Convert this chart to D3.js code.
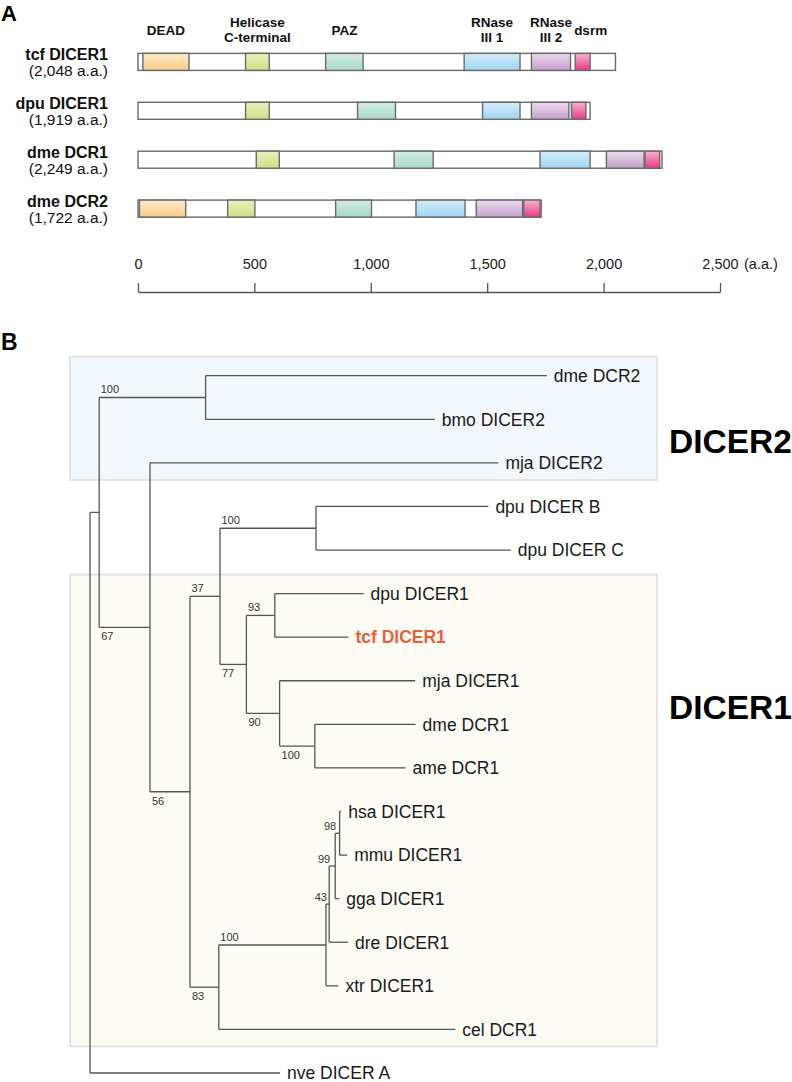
<!DOCTYPE html>
<html><head><meta charset="utf-8">
<script src="https://cdn.jsdelivr.net/npm/d3@7"></script>
<style>
html,body{margin:0;padding:0;background:#fff}
svg{display:block}
text{font-family:"Liberation Sans",Arial,Helvetica,sans-serif}
</style>
</head><body>
<svg id="chart" width="792" height="1082"></svg>
<script>
// ---------------- Panel A data ----------------
const proteins = ["tcf DICER1", "dpu DICER1", "dme DCR1", "dme DCR2"];
const proteinLengths = [2048, 1919, 2249, 1722];
const drawnLengths = [2051, 1942, 2251, 1732];
const domainTypes = ["DEAD", "Helicase", "PAZ", "RNase III 1", "RNase III 2", "dsrm"];
const domainTitles = [["DEAD"], ["Helicase", "C-terminal"], ["PAZ"], ["RNase", "III 1"], ["RNase", "III 2"], ["dsrm"]];
const domainColorTop = ["#fdebcc", "#eaefbd", "#d3ece3", "#d3ecf9", "#ecdcee", "#f7b2cf"];
const domainColorBottom = ["#fbc982", "#d0de84", "#a8d9c6", "#9fd5f3", "#c49ecb", "#e63a84"];
const tcfDomains = [[21, 219], [462, 564], [806, 967], [1401, 1641], [1690, 1858], [1878, 1942]];
const dpuDomains = [null, [462, 564], [943, 1106], [1480, 1641], [1690, 1851], [1862, 1924]];
const dmeDcr1Domains = [null, [508, 607], [1100, 1268], [1727, 1942], [2012, 2174], [2178, 2241]];
const dmeDcr2Domains = [[6, 205], [385, 502], [849, 1003], [1194, 1405], [1453, 1652], [1657, 1727]];
const proteinDomains = [tcfDomains, dpuDomains, dmeDcr1Domains, dmeDcr2Domains];
const axisTicks = [0, 500, 1000, 1500, 2000, 2500];

// ---------------- Panel B data (tree) ----------------
const nodeIds = ["root", "nA", "nD2", "dme DCR2", "bmo DICER2", "nB", "mja DICER2", "nC", "nE", "nG",
  "dpu DICER B", "dpu DICER C", "nH", "nI", "dpu DICER1", "tcf DICER1", "nJ", "mja DICER1", "nK",
  "dme DCR1", "ame DCR1", "nF", "nL", "nM", "nN", "nO", "hsa DICER1", "mmu DICER1", "gga DICER1",
  "dre DICER1", "xtr DICER1", "cel DCR1", "nve DICER A"];
const nodeParents = [null, "root", "nA", "nD2", "nD2", "nA", "nB", "nB", "nC", "nE",
  "nG", "nG", "nE", "nH", "nI", "nI", "nH", "nJ", "nJ",
  "nK", "nK", "nC", "nF", "nL", "nM", "nN", "nO", "nO", "nN",
  "nM", "nL", "nF", "root"];
const branchLengths = [0, 0.023, 0.266, 0.853, 0.573, 0.127, 0.871, 0.100, 0.075, 0.240,
  0.431, 0.487, 0.066, 0.071, 0.222, 0.184, 0.083, 0.339, 0.088,
  0.252, 0.227, 0.072, 0.268, 0.008, 0.015, 0.011, 0.004, 0.019, 0.010,
  0.047, 0.031, 0.591, 0.475];
const bootstraps = [null, null, 100, null, null, 67, null, 56, 37, 100,
  null, null, 77, 93, null, null, 90, null, 100,
  null, null, 83, 100, 43, 99, 98, null, null, null,
  null, null, null, null];
const highlightLeaf = "tcf DICER1";
const groupNames = ["DICER2", "DICER1"];
const groupFirstLeaf = ["dme DCR2", "dpu DICER1"];
const groupLastLeaf = ["mja DICER2", "cel DCR1"];
const groupFills = ["#f1f7fb", "#fcfcf5"];

// ---------------- Drawing ----------------
const svg = d3.select("#chart");
svg.append("rect").attr("width", 792).attr("height", 1082).attr("fill", "#fff");
const FONT = '"Liberation Sans", Arial, Helvetica, sans-serif';

// Panel letters
svg.append("text").attr("x", 1).attr("y", 20.5).attr("font-size", 22).attr("font-weight", "bold").attr("fill", "#000").text("A");
svg.append("text").attr("x", 1).attr("y", 350).attr("font-size", 23).attr("font-weight", "bold").attr("fill", "#000").text("B");

// Panel A
const xA = d3.scaleLinear().domain([0, 2500]).range([138, 720]);
const yA = d3.scalePoint().domain(proteins).range([61.9, 208.6]);
const barH = 17;
const strokeCol = "#6a6a6a";

const defs = svg.append("defs");
domainTypes.forEach((t, i) => {
  const g = defs.append("linearGradient").attr("id", "grad" + i).attr("x1", 0).attr("y1", 0).attr("x2", 0).attr("y2", 1);
  g.append("stop").attr("offset", "0%").attr("stop-color", domainColorTop[i]);
  g.append("stop").attr("offset", "100%").attr("stop-color", domainColorBottom[i]);
});

const gA = svg.append("g");
proteins.forEach((p, i) => {
  const cy = yA(p);
  gA.append("rect").attr("x", xA(0)).attr("y", cy - barH / 2)
    .attr("width", xA(drawnLengths[i]) - xA(0)).attr("height", barH)
    .attr("fill", "#fff").attr("stroke", strokeCol).attr("stroke-width", 1.4);
  proteinDomains[i].forEach((d, j) => {
    if (!d) return;
    gA.append("rect").attr("x", xA(d[0])).attr("y", cy - barH / 2)
      .attr("width", xA(d[1]) - xA(d[0])).attr("height", barH)
      .attr("fill", "url(#grad" + j + ")").attr("stroke", strokeCol).attr("stroke-width", 1.4);
  });
  gA.append("text").attr("x", 108).attr("y", cy - 2).attr("text-anchor", "end")
    .attr("font-size", 16).attr("font-weight", "bold").attr("fill", "#111").text(p);
  gA.append("text").attr("x", 108).attr("y", cy + 14).attr("text-anchor", "end")
    .attr("font-size", 15.5).attr("fill", "#111").text("(" + d3.format(",")(proteinLengths[i]) + " a.a.)");
});

// Domain titles (above the tcf DICER1 domains)
domainTitles.forEach((lines, j) => {
  const d = tcfDomains[j];
  const cx = xA((d[0] + d[1]) / 2) + (j === 5 ? 8 : 0);
  const t = gA.append("text").attr("text-anchor", "middle").attr("font-size", 13.5)
    .attr("font-weight", "bold").attr("fill", "#111");
  if (lines.length === 1) {
    t.append("tspan").attr("x", cx).attr("y", 34.5).text(lines[0]);
  } else {
    t.append("tspan").attr("x", cx).attr("y", 26.7).text(lines[0]);
    t.append("tspan").attr("x", cx).attr("y", 41.7).text(lines[1]);
  }
});

// Axis
const axisY = 292;
const axisG = svg.append("g").attr("transform", `translate(0,${axisY})`)
  .call(d3.axisTop(xA).tickValues(axisTicks).tickFormat(d3.format(",")).tickSize(9).tickSizeOuter(0).tickPadding(14));
axisG.select(".domain").attr("stroke", "#555").attr("stroke-width", 1.5);
axisG.selectAll(".tick line").attr("stroke", "#555").attr("stroke-width", 1.3);
axisG.selectAll(".tick text").attr("font-size", 14.5).attr("font-family", FONT).attr("fill", "#222");
svg.append("text").attr("x", 744).attr("y", axisY - 23).attr("font-size", 14.5).attr("fill", "#222").text("(a.a.)");

// Panel B tree
const table = nodeIds.map((id, i) => ({ id, parent: nodeParents[i], len: branchLengths[i], bs: bootstraps[i] }));
const root = d3.stratify().id(d => d.id).parentId(d => d.parent)(table);
root.eachBefore(n => { n.dist = (n.parent ? n.parent.dist : 0) + n.data.len; });
const leaves = root.leaves();
const xB = d3.scaleLinear().domain([0, 1]).range([90, 490]);
const yB = d3.scalePoint().domain(leaves.map(l => l.id)).range([375.7, 1073]);
root.eachAfter(n => {
  n.yy = n.children ? (n.children[0].yy + n.children[n.children.length - 1].yy) / 2 : yB(n.id);
});

// Group boxes
const gBox = svg.append("g");
groupNames.forEach((g, i) => {
  const y0 = yB(groupFirstLeaf[i]) - 19, y1 = yB(groupLastLeaf[i]) + 17;
  gBox.append("rect").attr("x", 70).attr("y", y0).attr("width", 587).attr("height", y1 - y0)
    .attr("fill", groupFills[i]).attr("stroke", "#e2e4e4").attr("stroke-width", 2);
});
svg.append("text").attr("x", 669).attr("y", (yB("bmo DICER2") + yB("mja DICER2")) / 2 + 12)
  .attr("font-size", 33.5).attr("font-weight", "bold").attr("fill", "#000").text(groupNames[0]);
svg.append("text").attr("x", 669).attr("y", (yB("mja DICER1") + yB("dme DCR1")) / 2 + 16)
  .attr("font-size", 33.5).attr("font-weight", "bold").attr("fill", "#000").text(groupNames[1]);

const gT = svg.append("g").attr("fill", "none").attr("stroke", "#555").attr("stroke-width", 1.3);
root.descendants().forEach(n => {
  if (n.parent) {
    gT.append("path").attr("d", `M${xB(n.parent.dist)},${n.yy}H${xB(n.dist)}`);
  }
  if (n.children) {
    gT.append("path").attr("d", `M${xB(n.dist)},${n.children[0].yy}V${n.children[n.children.length - 1].yy}`);
  }
});

// Leaf labels
const gL = svg.append("g");
leaves.forEach(l => {
  const hl = l.id === highlightLeaf;
  gL.append("text").attr("x", xB(l.dist) + 7).attr("y", l.yy).attr("dy", "0.36em")
    .attr("font-size", 17.5).attr("font-weight", hl ? "bold" : "normal")
    .attr("fill", hl ? "#e8603e" : "#1a1a1a").text(l.id);
});

// Bootstrap labels
const gS = svg.append("g").attr("font-size", 11).attr("fill", "#333");
root.descendants().forEach(n => {
  if (n.data.bs == null || !n.parent) return;
  const px = xB(n.parent.dist);
  const blen = xB(n.dist) - px;
  const upper = n.parent.children[0] === n;
  const t = gS.append("text").text(n.data.bs);
  if (blen < 8) {
    t.attr("x", px + 1).attr("y", n.yy - 3).attr("text-anchor", "end");
  } else if (upper) {
    t.attr("x", px + 1.5).attr("y", n.yy - 4);
  } else {
    t.attr("x", px + 2).attr("y", n.yy + 13);
  }
});
</script>
</body></html>
